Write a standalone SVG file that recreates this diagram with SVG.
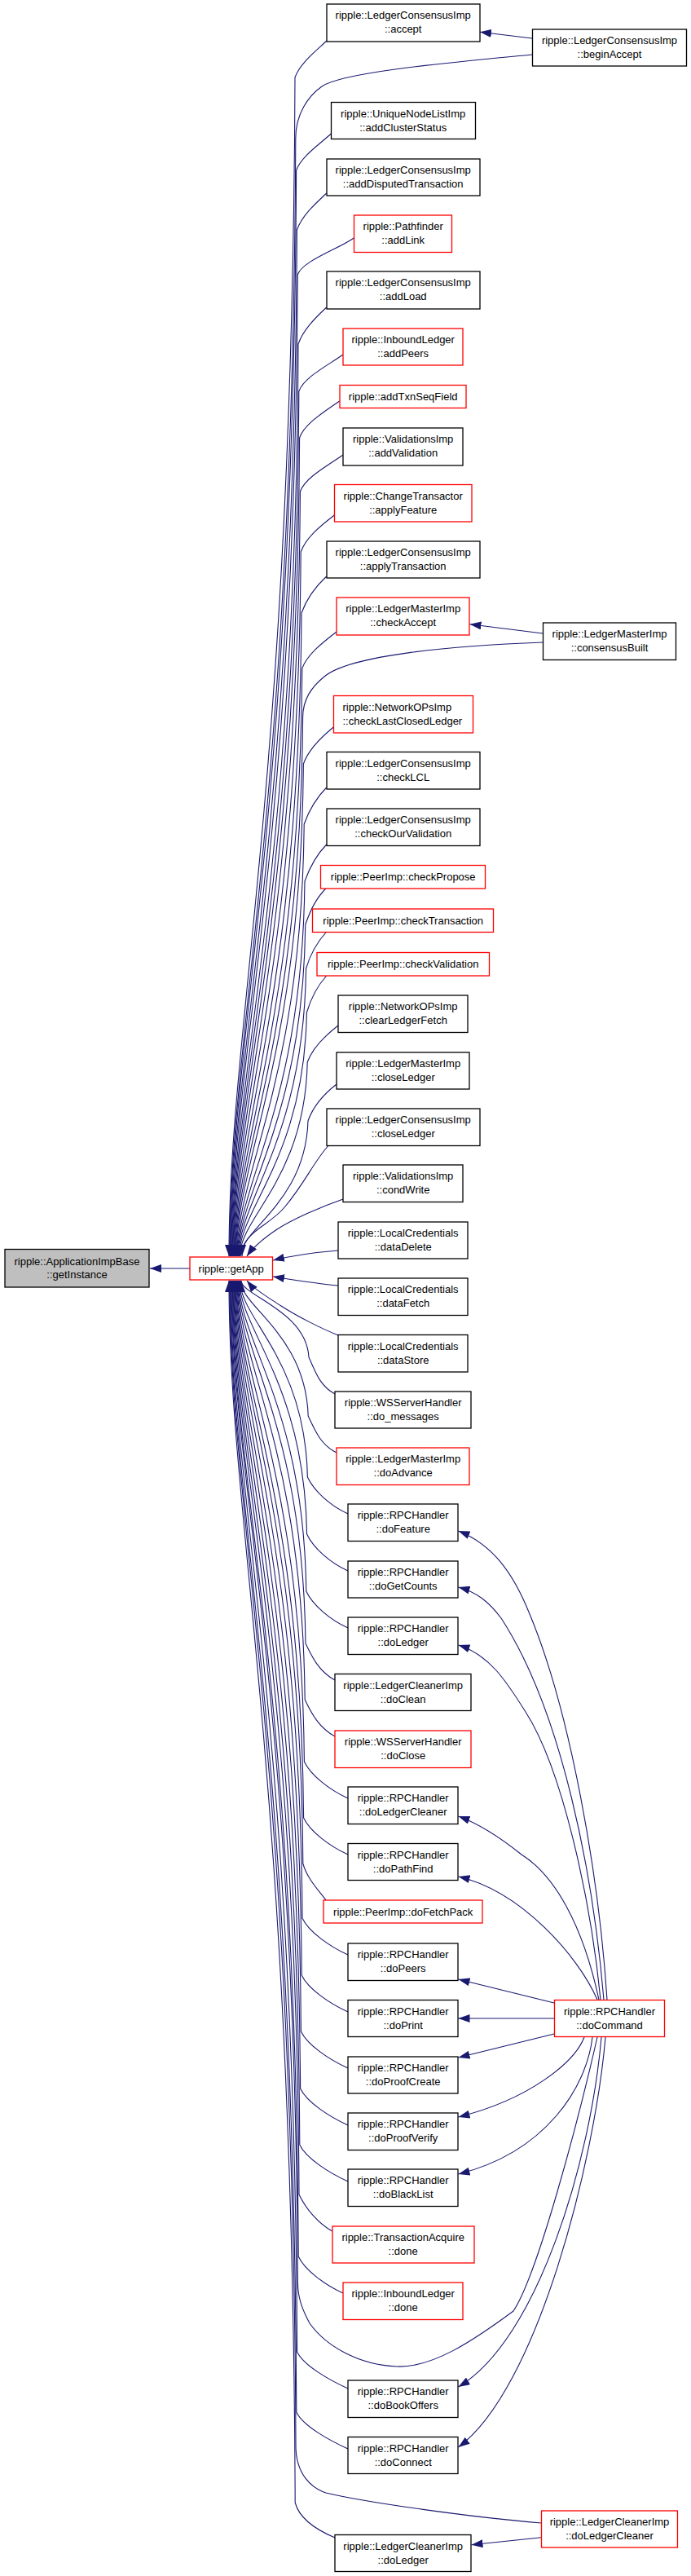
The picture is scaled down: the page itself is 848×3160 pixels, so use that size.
<svg xmlns="http://www.w3.org/2000/svg" width="848" height="3160" viewBox="0 0 848 3160">
<style>
.e{fill:none;stroke:#191970;stroke-width:1.1;marker-end:url(#arr)}
.n{fill:#ffffff;stroke:#000000;stroke-width:1.3}
.r{fill:#ffffff;stroke:#ff0000;stroke-width:1.3}
.g{fill:#bfbfbf;stroke:#000000;stroke-width:1.3}
text{font-family:"Liberation Sans",Arial,Helvetica,sans-serif;font-size:13px;fill:#000000;text-anchor:middle}
</style>
<defs>
<marker id="arr" markerUnits="userSpaceOnUse" markerWidth="14" markerHeight="10" refX="14" refY="5" orient="auto" viewBox="0 0 14 10"><path d="M0,0 L14,5 L0,10 Z" fill="#191970"/></marker>
</defs>
<rect width="848" height="3160" fill="#ffffff"/>
<g id="connectors">
<path class="e" d="M233,1556 L184,1556"/>
<path class="e" d="M401,50 C386,64 368,78 362,95 C359,963 281,1252 281,1541"/>
<path class="e" d="M653,67 C560,76 420,88 395,106 C378,118 362.8,140 362.8,170 C359.8,993 281.7,1267 281.7,1541"/>
<path class="e" d="M406.3,164 C391,178 369.6,192 363.6,209 C360.6,1008 282.4,1275 282.4,1541"/>
<path class="e" d="M400.7,237 C385.7,251 370.4,265 364.4,282 C361.4,1037 283.1,1289 283.1,1541"/>
<path class="e" d="M434.3,292 C414,306 371.2,320 365.2,337 C362.2,1059 283.8,1300 283.8,1541"/>
<path class="e" d="M400.7,377 C385.7,391 372,405 366,422 C363,1093 284.5,1317 284.5,1541"/>
<path class="e" d="M421,435 C401,449 372.8,463 366.8,480 C363.8,1117 285.2,1329 285.2,1541"/>
<path class="e" d="M416.7,492 C396.7,506 373.6,520 367.6,537 C364.6,1139 285.9,1340 285.9,1541"/>
<path class="e" d="M421,558 C401,572 374.4,586 368.4,603 C365.4,1166 286.6,1353 286.6,1541"/>
<path class="e" d="M410.3,632 C392,646 375.2,660 369.2,677 C366.2,1195 287.3,1368 287.3,1541"/>
<path class="e" d="M400.7,707 C385.7,721 376,735 370,752 C367,1225 288,1383 288,1541"/>
<path class="e" d="M413,775 C395,789 376.8,803 370.8,820 C367.8,1253 288.7,1397 288.7,1541"/>
<path class="e" d="M666,788 C560,792 430,803 398,830 C382,843 371.6,858 371.6,880 C368.6,1277 289.4,1409 289.4,1541"/>
<path class="e" d="M409.3,892 C392,906 378.4,920 372.4,937 C369.4,1299 290.1,1420 290.1,1541"/>
<path class="e" d="M400.7,966 C387,980 379.2,994 373.2,1011 C370.2,1329 290.8,1435 290.8,1541"/>
<path class="e" d="M400.7,1036 C387,1050 380,1064 374,1081 C371,1357 291.5,1449 291.5,1541"/>
<path class="e" d="M400.7,1089 C387,1103 380.8,1117 374.8,1134 C371.8,1378 292.2,1460 292.2,1541"/>
<path class="e" d="M400.7,1143 C388,1157 380.6,1171 375.6,1188 C372.6,1400 292.9,1470 292.9,1541"/>
<path class="e" d="M400.7,1197 C388,1211 381.4,1225 376.4,1242 C373.4,1421 293.6,1481 293.6,1541"/>
<path class="e" d="M415,1258 C397,1272 383.2,1286 377.2,1303 C374.2,1446 294.3,1493 294.3,1541"/>
<path class="e" d="M413,1330 C395,1344 384,1358 378,1375 C375,1475 295,1508 295,1541"/>
<path class="e" d="M403.3,1405 C385,1425 375,1450 350,1480 C330,1505 297,1510 297,1541"/>
<path class="e" d="M421,1471 C395,1480 360,1495 340,1508 C325,1518 312,1528 303,1541"/>
<path class="e" d="M415,1534 C390,1536 360,1540 335,1546"/>
<path class="e" d="M415,1577 C390,1575 360,1570 335,1566"/>
<path class="e" d="M415,1638 C395,1630 365,1615 345,1602 C330,1592 312,1582 303,1571"/>
<path class="e" d="M411,1710 C392,1700 387,1682 379,1665 C376,1608 296,1589 296,1571"/>
<path class="e" d="M413,1782 C393,1772 386.2,1754 378.2,1737 C375.2,1637 295.3,1603 295.3,1571"/>
<path class="e" d="M427,1857 C405,1847 385.4,1829 377.4,1812 C374.4,1667 294.6,1618 294.6,1571"/>
<path class="e" d="M427,1927 C405,1917 384.6,1899 376.6,1882 C373.6,1695 293.9,1632 293.9,1571"/>
<path class="e" d="M427,1997 C405,1987 383.8,1969 375.8,1952 C372.8,1723 293.1,1646 293.1,1571"/>
<path class="e" d="M411,2061 C392,2051 383,2033 375,2016 C372,1748 292.4,1659 292.4,1571"/>
<path class="e" d="M411,2130 C392,2120 382.2,2102 374.2,2085 C371.2,1776 291.7,1673 291.7,1571"/>
<path class="e" d="M427,2206 C405,2196 381.4,2178 373.4,2161 C370.4,1806 291,1688 291,1571"/>
<path class="e" d="M427,2275 C405,2265 380.6,2247 372.6,2230 C369.6,1834 290.3,1702 290.3,1571"/>
<path class="e" d="M400,2331 C392,2320 377,2305 371.8,2286 C368.8,1856 289.6,1713 289.6,1571"/>
<path class="e" d="M427,2398 C405,2388 379,2370 371,2353 C368,1883 288.9,1727 288.9,1571"/>
<path class="e" d="M427,2468 C405,2458 378.2,2440 370.2,2423 C367.2,1911 288.1,1741 288.1,1571"/>
<path class="e" d="M427,2537 C405,2527 377.4,2509 369.4,2492 C366.4,1939 287.4,1754 287.4,1571"/>
<path class="e" d="M427,2607 C405,2597 376.6,2579 368.6,2562 C365.6,1967 286.7,1768 286.7,1571"/>
<path class="e" d="M427,2676 C405,2666 375.8,2648 367.8,2631 C364.8,1994 286,1782 286,1571"/>
<path class="e" d="M407.7,2737 C390,2727 375,2709 367,2692 C364,2019 285.3,1794 285.3,1571"/>
<path class="e" d="M421,2813 C399,2803 374.2,2785 366.2,2768 C363.2,2049 284.6,1810 284.6,1571"/>
<path class="e" d="M733,2499 C710,2600 660,2790 630,2835 C580,2872 530,2905 487,2903 C440,2901 400,2878 380,2850 C372,2835 365.4,2820 365.4,2800 C362.4,2062 283.9,1816 283.9,1571"/>
<path class="e" d="M427,2930 C405,2920 372.6,2902 364.6,2885 C361.6,2096 283.1,1833 283.1,1571"/>
<path class="e" d="M427,3004 C405,2994 371.8,2976 363.8,2959 C360.8,2126 282.4,1848 282.4,1571"/>
<path class="e" d="M664.3,3095 C580,3088 450,3070 400,3058 C382,3052 363,3035 363,3000 C360,2142 281.7,1856 281.7,1571"/>
<path class="e" d="M411,3113 C392,3105 368,3092 362.2,3070 C359.2,2170 281,1870 281,1571"/>
<path class="e" d="M653,47 L589,39.3"/>
<path class="e" d="M666,777 L576.5,765.7"/>
<path class="e" d="M664.3,3112.7 L578.5,3121.7"/>
<path class="e" d="M745,2453 C735,2300 700,2100 650,1980 C630,1930 605,1895 562.5,1878"/>
<path class="e" d="M741,2453 C728,2300 690,2100 615,1985 C600,1965 585,1953 562.5,1947"/>
<path class="e" d="M737,2453 C725,2330 690,2170 645,2100 C620,2060 600,2030 562.5,2018"/>
<path class="e" d="M735,2453 C715,2360 680,2300 640,2275 C615,2255 590,2238 562.5,2228"/>
<path class="e" d="M733,2453 C710,2400 640,2320 562.5,2302"/>
<path class="e" d="M680,2457 L562.5,2428"/>
<path class="e" d="M680,2476 L562.5,2476"/>
<path class="e" d="M680,2495 L562.5,2524"/>
<path class="e" d="M717,2499 C705,2530 650,2575 562.5,2597"/>
<path class="e" d="M727,2499 C720,2560 670,2640 562.5,2667"/>
<path class="e" d="M738,2499 C725,2650 660,2870 562.5,2928"/>
<path class="e" d="M743,2499 C730,2650 660,2930 562.5,3002"/>
</g>
<g id="n_root"><rect class="g" x="6" y="1532.5" width="177" height="46.5"/><text x="94.5" y="1551.5">ripple::ApplicationImpBase</text><text x="94.5" y="1567.5">::getInstance</text></g>
<g id="n_getApp"><rect class="r" x="233" y="1542" width="101.5" height="28"/><text x="283.7" y="1560.5">ripple::getApp</text></g>
<g id="n_accept"><rect class="n" x="401" y="5" width="188" height="46"/><text x="494.7" y="23">ripple::LedgerConsensusImp</text><text x="494.7" y="40">::accept</text></g>
<g id="n_beginAccept"><rect class="n" x="653.5" y="36" width="189" height="45"/><text x="748" y="54">ripple::LedgerConsensusImp</text><text x="748" y="71">::beginAccept</text></g>
<g id="n_addClusterStatus"><rect class="n" x="406.5" y="125.5" width="177" height="45"/><text x="494.7" y="143.5">ripple::UniqueNodeListImp</text><text x="494.7" y="160.5">::addClusterStatus</text></g>
<g id="n_addDisputedTransaction"><rect class="n" x="401" y="195" width="188" height="45"/><text x="494.7" y="213">ripple::LedgerConsensusImp</text><text x="494.7" y="230">::addDisputedTransaction</text></g>
<g id="n_addLink"><rect class="r" x="434.5" y="264" width="120" height="45.5"/><text x="494.7" y="282">ripple::Pathfinder</text><text x="494.7" y="299">::addLink</text></g>
<g id="n_addLoad"><rect class="n" x="401" y="333" width="188" height="46"/><text x="494.7" y="351">ripple::LedgerConsensusImp</text><text x="494.7" y="368">::addLoad</text></g>
<g id="n_addPeers"><rect class="r" x="421" y="403" width="147" height="45"/><text x="494.7" y="421">ripple::InboundLedger</text><text x="494.7" y="438">::addPeers</text></g>
<g id="n_addTxnSeqField"><rect class="r" x="417" y="472.5" width="155" height="28"/><text x="494.7" y="491">ripple::addTxnSeqField</text></g>
<g id="n_addValidation"><rect class="n" x="421" y="525" width="147" height="46"/><text x="494.7" y="543">ripple::ValidationsImp</text><text x="494.7" y="560">::addValidation</text></g>
<g id="n_applyFeature"><rect class="r" x="410.5" y="594.5" width="168.5" height="45.5"/><text x="494.7" y="612.5">ripple::ChangeTransactor</text><text x="494.7" y="629.5">::applyFeature</text></g>
<g id="n_applyTransaction"><rect class="n" x="401" y="664" width="188" height="45"/><text x="494.7" y="682">ripple::LedgerConsensusImp</text><text x="494.7" y="699">::applyTransaction</text></g>
<g id="n_checkAccept"><rect class="r" x="413" y="733" width="163" height="46"/><text x="494.7" y="751">ripple::LedgerMasterImp</text><text x="494.7" y="768">::checkAccept</text></g>
<g id="n_consensusBuilt"><rect class="n" x="666.5" y="764" width="163" height="45.5"/><text x="748" y="782">ripple::LedgerMasterImp</text><text x="748" y="799">::consensusBuilt</text></g>
<g id="n_checkLastClosedLedger"><rect class="r" x="409.5" y="853.5" width="171" height="45.5"/><text x="420.5" y="871.5" style="text-anchor:start">ripple::NetworkOPsImp</text><text x="420.5" y="888.5" style="text-anchor:start">::checkLastClosedLedger</text></g>
<g id="n_checkLCL"><rect class="n" x="401" y="922.5" width="188" height="45.5"/><text x="494.7" y="940.5">ripple::LedgerConsensusImp</text><text x="494.7" y="957.5">::checkLCL</text></g>
<g id="n_checkOurValidation"><rect class="n" x="401" y="992" width="188" height="45.5"/><text x="494.7" y="1010">ripple::LedgerConsensusImp</text><text x="494.7" y="1027">::checkOurValidation</text></g>
<g id="n_checkPropose"><rect class="r" x="393.5" y="1061.5" width="202" height="28.5"/><text x="494.7" y="1080">ripple::PeerImp::checkPropose</text></g>
<g id="n_checkTransaction"><rect class="r" x="383.5" y="1115" width="222" height="28.5"/><text x="494.7" y="1133.5">ripple::PeerImp::checkTransaction</text></g>
<g id="n_checkValidation"><rect class="r" x="389" y="1168.5" width="211.5" height="28.5"/><text x="494.7" y="1187">ripple::PeerImp::checkValidation</text></g>
<g id="n_clearLedgerFetch"><rect class="n" x="415" y="1221" width="159" height="45.5"/><text x="494.7" y="1239">ripple::NetworkOPsImp</text><text x="494.7" y="1256">::clearLedgerFetch</text></g>
<g id="n_LMI_closeLedger"><rect class="n" x="413" y="1291" width="163" height="45"/><text x="494.7" y="1309">ripple::LedgerMasterImp</text><text x="494.7" y="1326">::closeLedger</text></g>
<g id="n_LCI_closeLedger"><rect class="n" x="401" y="1360" width="188" height="45.5"/><text x="494.7" y="1378">ripple::LedgerConsensusImp</text><text x="494.7" y="1395">::closeLedger</text></g>
<g id="n_condWrite"><rect class="n" x="421" y="1429" width="147" height="45.5"/><text x="494.7" y="1447">ripple::ValidationsImp</text><text x="494.7" y="1464">::condWrite</text></g>
<g id="n_dataDelete"><rect class="n" x="415" y="1499" width="159" height="45"/><text x="494.7" y="1517">ripple::LocalCredentials</text><text x="494.7" y="1534">::dataDelete</text></g>
<g id="n_dataFetch"><rect class="n" x="415" y="1568" width="159" height="45.5"/><text x="494.7" y="1586">ripple::LocalCredentials</text><text x="494.7" y="1603">::dataFetch</text></g>
<g id="n_dataStore"><rect class="n" x="415" y="1637.5" width="159" height="45.5"/><text x="494.7" y="1655.5">ripple::LocalCredentials</text><text x="494.7" y="1672.5">::dataStore</text></g>
<g id="n_do_messages"><rect class="n" x="411" y="1707" width="167" height="45"/><text x="494.7" y="1725">ripple::WSServerHandler</text><text x="494.7" y="1742">::do_messages</text></g>
<g id="n_doAdvance"><rect class="r" x="413" y="1776" width="163" height="45.5"/><text x="494.7" y="1794">ripple::LedgerMasterImp</text><text x="494.7" y="1811">::doAdvance</text></g>
<g id="n_doFeature"><rect class="n" x="427" y="1845" width="135" height="45.5"/><text x="494.7" y="1863">ripple::RPCHandler</text><text x="494.7" y="1880">::doFeature</text></g>
<g id="n_doGetCounts"><rect class="n" x="427" y="1915" width="135" height="45"/><text x="494.7" y="1933">ripple::RPCHandler</text><text x="494.7" y="1950">::doGetCounts</text></g>
<g id="n_doLedger"><rect class="n" x="427" y="1984" width="135" height="45.5"/><text x="494.7" y="2002">ripple::RPCHandler</text><text x="494.7" y="2019">::doLedger</text></g>
<g id="n_doClean"><rect class="n" x="411" y="2053.5" width="167" height="45"/><text x="494.7" y="2071.5">ripple::LedgerCleanerImp</text><text x="494.7" y="2088.5">::doClean</text></g>
<g id="n_doClose"><rect class="r" x="411" y="2123" width="167" height="45.5"/><text x="494.7" y="2141">ripple::WSServerHandler</text><text x="494.7" y="2158">::doClose</text></g>
<g id="n_RPC_doLedgerCleaner"><rect class="n" x="427" y="2192" width="135" height="45.5"/><text x="494.7" y="2210">ripple::RPCHandler</text><text x="494.7" y="2227">::doLedgerCleaner</text></g>
<g id="n_doPathFind"><rect class="n" x="427" y="2261.5" width="135" height="45"/><text x="494.7" y="2279.5">ripple::RPCHandler</text><text x="494.7" y="2296.5">::doPathFind</text></g>
<g id="n_doFetchPack"><rect class="r" x="397" y="2331" width="195" height="28"/><text x="494.7" y="2349.5">ripple::PeerImp::doFetchPack</text></g>
<g id="n_doPeers"><rect class="n" x="427" y="2384" width="135" height="45.5"/><text x="494.7" y="2402">ripple::RPCHandler</text><text x="494.7" y="2419">::doPeers</text></g>
<g id="n_doPrint"><rect class="n" x="427" y="2453.5" width="135" height="45"/><text x="494.7" y="2471.5">ripple::RPCHandler</text><text x="494.7" y="2488.5">::doPrint</text></g>
<g id="n_doProofCreate"><rect class="n" x="427" y="2523" width="135" height="45"/><text x="494.7" y="2541">ripple::RPCHandler</text><text x="494.7" y="2558">::doProofCreate</text></g>
<g id="n_doProofVerify"><rect class="n" x="427" y="2592" width="135" height="45.5"/><text x="494.7" y="2610">ripple::RPCHandler</text><text x="494.7" y="2627">::doProofVerify</text></g>
<g id="n_doBlackList"><rect class="n" x="427" y="2661" width="135" height="45.5"/><text x="494.7" y="2679">ripple::RPCHandler</text><text x="494.7" y="2696">::doBlackList</text></g>
<g id="n_TA_done"><rect class="r" x="408" y="2731" width="174" height="45"/><text x="494.7" y="2749">ripple::TransactionAcquire</text><text x="494.7" y="2766">::done</text></g>
<g id="n_IL_done"><rect class="r" x="421" y="2800" width="147" height="45.5"/><text x="494.7" y="2818">ripple::InboundLedger</text><text x="494.7" y="2835">::done</text></g>
<g id="n_doBookOffers"><rect class="n" x="427" y="2920" width="135" height="45.5"/><text x="494.7" y="2938">ripple::RPCHandler</text><text x="494.7" y="2955">::doBookOffers</text></g>
<g id="n_doConnect"><rect class="n" x="427" y="2989.5" width="135" height="45"/><text x="494.7" y="3007.5">ripple::RPCHandler</text><text x="494.7" y="3024.5">::doConnect</text></g>
<g id="n_LCI_doLedger"><rect class="n" x="411" y="3109.5" width="167" height="45"/><text x="494.7" y="3127.5">ripple::LedgerCleanerImp</text><text x="494.7" y="3144.5">::doLedger</text></g>
<g id="n_doCommand"><rect class="r" x="680.5" y="2453.5" width="135" height="45"/><text x="748" y="2471.5">ripple::RPCHandler</text><text x="748" y="2488.5">::doCommand</text></g>
<g id="n_LC_doLedgerCleaner"><rect class="r" x="664.5" y="3080" width="167" height="45"/><text x="748" y="3098">ripple::LedgerCleanerImp</text><text x="748" y="3115">::doLedgerCleaner</text></g>
</svg>
